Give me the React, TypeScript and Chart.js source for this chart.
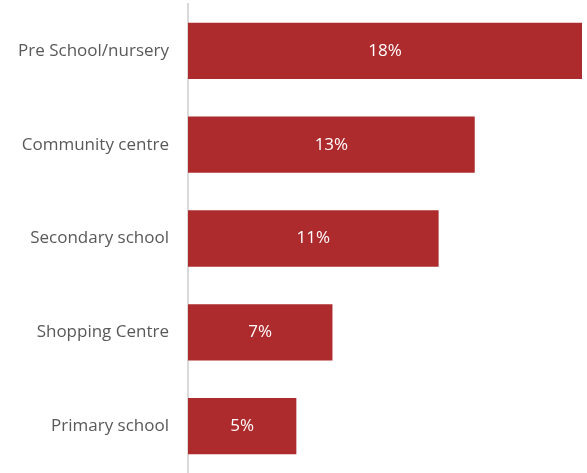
import React, { useEffect, useRef } from "react";
import { Chart, registerables } from "chart.js";

Chart.register(...registerables);

const categories = ["Pre School/nursery", "Community centre", "Secondary school", "Shopping Centre", "Primary school"];
const values = [18, 13.1, 11.45, 6.6, 4.95];
const valueLabels = ["18%", "13%", "11%", "7%", "5%"];

const FONT = "'Open Sans', 'Liberation Sans', sans-serif";

const barLabelPlugin = {
  id: "barLabels",
  afterDatasetsDraw(chart: any) {
    const { ctx } = chart;
    const meta = chart.getDatasetMeta(0);
    ctx.save();
    ctx.fillStyle = "#ffffff";
    ctx.font = `17px ${FONT}`;
    ctx.textAlign = "center";
    ctx.textBaseline = "middle";
    meta.data.forEach((bar: any, i: number) => {
      const cx = (bar.x + bar.base) / 2;
      ctx.fillText(valueLabels[i], cx, bar.y);
    });
    ctx.restore();
  },
};

export default function App() {
  const ref = useRef<HTMLCanvasElement | null>(null);
  useEffect(() => {
    document.body.style.margin = "0";
    const chart = new Chart(ref.current!, {
      type: "bar",
      data: {
        labels: categories,
        datasets: [
          {
            data: values,
            backgroundColor: "#AD2A2D",
            categoryPercentage: 1,
            barPercentage: 0.6,
          },
        ],
      },
      options: {
        indexAxis: "y",
        animation: false,
        responsive: false,
        layout: { padding: { top: 4, right: 5, bottom: 0, left: 0 } },
        plugins: { legend: { display: false }, tooltip: { enabled: false } },
        scales: {
          x: {
            min: 0,
            max: 18,
            display: false,
          },
          y: {
            grid: { display: false, drawTicks: false },
            border: { display: true, color: "#d9d9d9", width: 2 },
            ticks: {
              color: "#595959",
              font: { family: FONT, size: 17 },
              padding: 19,
            },
            afterFit(scale: any) {
              scale.width = 188;
              scale.paddingTop = 0;
              scale.paddingBottom = 0;
            },
          },
        },
      },
      plugins: [barLabelPlugin],
    });
    return () => chart.destroy();
  }, []);
  return <canvas ref={ref} width={587} height={473} style={{ display: "block" }} />;
}
